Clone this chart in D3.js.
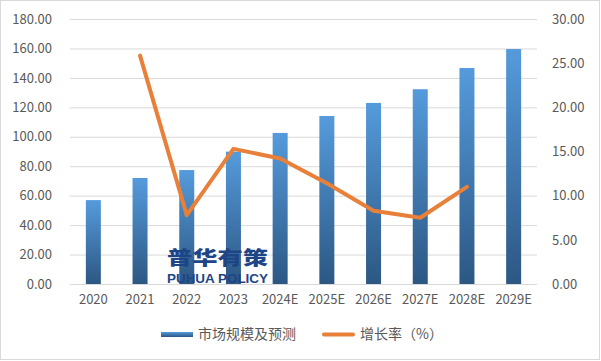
<!DOCTYPE html>
<html><head><meta charset="utf-8">
<script src="https://cdn.jsdelivr.net/npm/d3@7"></script>
<style>body{margin:0;background:#fff}svg{display:block}</style>
</head><body>
<svg id="c" width="601" height="361"></svg>
<script>
const categories = ["2020","2021","2022","2023","2024E","2025E","2026E","2027E","2028E","2029E"];
const marketSize = [57.0, 72.0, 77.4, 89.9, 102.6, 114.1, 123.0, 132.3, 146.7, 159.6];
const growthRate = [null, 25.85, 7.8, 15.3, 14.2, 11.4, 8.3, 7.5, 11.0, null];
const leftTicks = [0,20,40,60,80,100,120,140,160,180];
const rightTicks = [0,5,10,15,20,25,30];
const seriesNames = ["市场规模及预测","增长率（%）"];

const svg = d3.select("#c");
const font = "'Microsoft YaHei','Noto Sans CJK SC','DejaVu Sans',sans-serif";
const M = {l:70, r:537, t:19, b:284};

svg.append("rect").attr("x",0.5).attr("y",0.5).attr("width",599).attr("height",359)
  .attr("fill","#fff").attr("stroke","#d9d9d9");

const defs = svg.append("defs");
const g = defs.append("linearGradient").attr("id","bg").attr("x1",0).attr("y1",0).attr("x2",0).attr("y2",1);
g.append("stop").attr("offset","0%").attr("stop-color","#559BDC");
g.append("stop").attr("offset","100%").attr("stop-color","#2C5783");

const x = d3.scaleBand().domain(categories).range([M.l,M.r]).paddingInner(0).paddingOuter(0);
const yL = d3.scaleLinear().domain([0,180]).range([M.b,M.t]);
const yR = d3.scaleLinear().domain([0,30]).range([M.b,M.t]);

// gridlines
svg.append("g").selectAll("line").data(leftTicks).join("line")
  .attr("x1",M.l).attr("x2",M.r).attr("y1",d=>yL(d)+0.5).attr("y2",d=>yL(d)+0.5)
  .attr("stroke","#d9d9d9").attr("stroke-width",1);

// left axis
const la = svg.append("g").attr("transform",`translate(${M.l-18},0)`)
  .call(d3.axisLeft(yL).tickValues(leftTicks).tickFormat(d3.format(".2f")).tickSize(0).tickPadding(0));
la.select(".domain").remove();
la.selectAll("text").attr("font-family",font).attr("font-size",13).attr("fill","#595959");

// right axis
const ra = svg.append("g").attr("transform",`translate(${M.r+15},0)`)
  .call(d3.axisRight(yR).tickValues(rightTicks).tickFormat(d3.format(".2f")).tickSize(0).tickPadding(0));
ra.select(".domain").remove();
ra.selectAll("text").attr("font-family",font).attr("font-size",13).attr("fill","#595959");

// bottom axis
const ba = svg.append("g").attr("transform",`translate(0,${M.b+11})`)
  .call(d3.axisBottom(x).tickSize(0).tickPadding(0));
ba.select(".domain").remove();
ba.selectAll("text").attr("font-family",font).attr("font-size",13).attr("fill","#595959");

// bars
const bw = 15;
svg.append("g").selectAll("rect").data(marketSize).join("rect")
  .attr("x",(d,i)=>x(categories[i])+x.bandwidth()/2-bw/2)
  .attr("width",bw)
  .attr("y",d=>yL(d)).attr("height",d=>yL(0)-yL(d))
  .attr("fill","url(#bg)");

// watermark
svg.append("text").attr("x",167).attr("y",265)
  .attr("font-family","'Noto Sans CJK SC',sans-serif").attr("font-weight",900).attr("font-size",19)
  .attr("fill","#1E4586").attr("textLength",101).attr("lengthAdjust","spacingAndGlyphs").text("普华有策");
svg.append("text").attr("x",167).attr("y",283)
  .attr("font-family","'Liberation Sans',Arial,sans-serif").attr("font-weight",700).attr("font-size",13.5)
  .attr("fill","#1E4586").attr("textLength",101).attr("lengthAdjust","spacingAndGlyphs").text("PUHUA POLICY");

// line
const pts = growthRate.map((v,i)=>({c:categories[i],v})).filter(d=>d.v!==null);
svg.append("path").datum(pts)
  .attr("d",d3.line().x(d=>x(d.c)+x.bandwidth()/2).y(d=>yR(d.v)))
  .attr("fill","none").attr("stroke","#E8803A").attr("stroke-width",4)
  .attr("stroke-linejoin","round").attr("stroke-linecap","round");

// legend
const lg = svg.append("g");
lg.append("rect").attr("x",161).attr("y",332).attr("width",32).attr("height",5).attr("fill","url(#bg)");
lg.append("text").attr("x",198).attr("y",339).attr("font-family",font).attr("font-size",14)
  .attr("fill","#595959").text(seriesNames[0]);
lg.append("line").attr("x1",324).attr("x2",353).attr("y1",334.5).attr("y2",334.5)
  .attr("stroke","#E8803A").attr("stroke-width",4).attr("stroke-linecap","round");
lg.append("text").attr("x",360).attr("y",339).attr("font-family",font).attr("font-size",14)
  .attr("fill","#595959").text(seriesNames[1]);
</script>
</body></html>
